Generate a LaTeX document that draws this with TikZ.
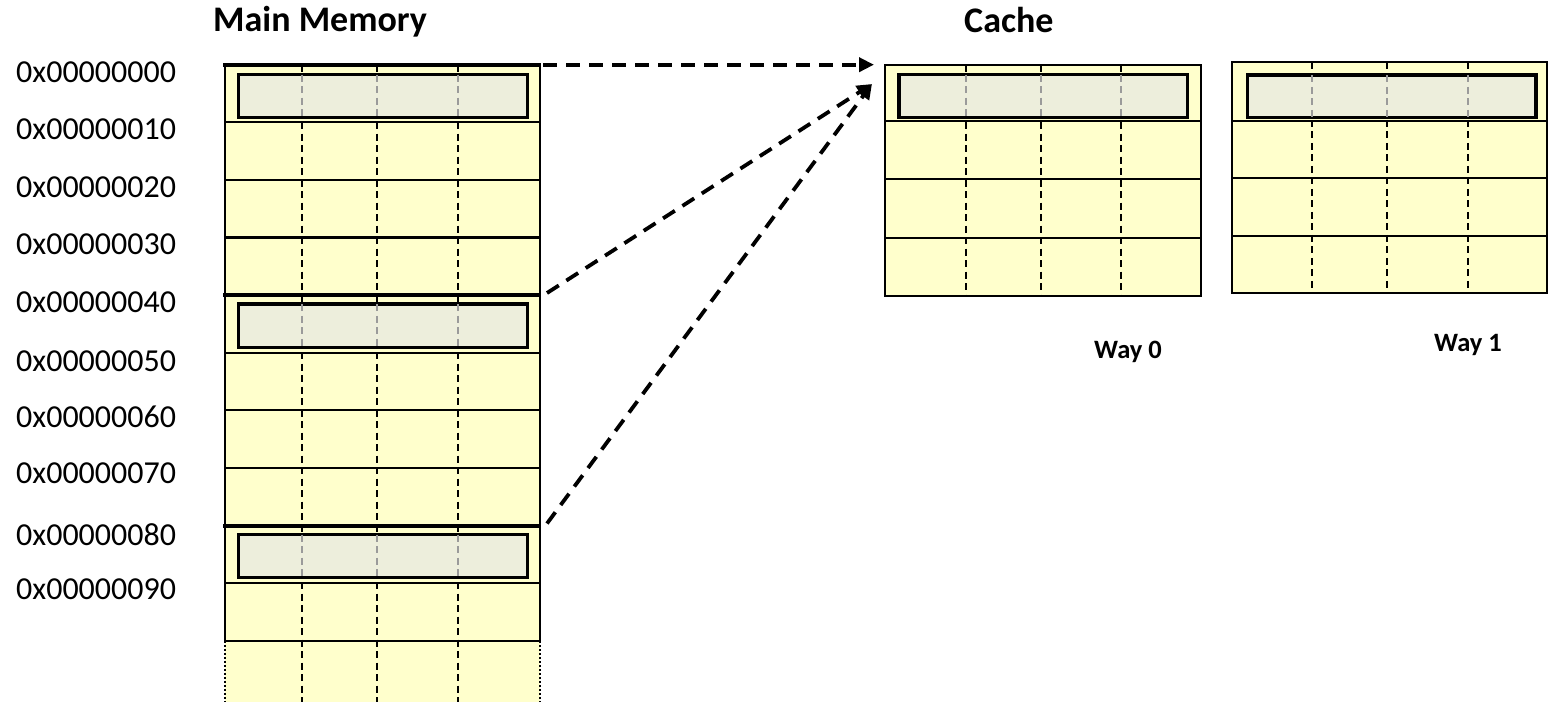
\documentclass[tikz,border=0pt]{standalone}
\usepackage{fontspec}
\setmainfont{Carlito}
\usetikzlibrary{arrows.meta}
\definecolor{cellfill}{HTML}{FFFFCC}
\definecolor{blockfill}{HTML}{EDEEDC}
\definecolor{gridgrey}{HTML}{9A9A9A}
\begin{document}
\begin{tikzpicture}[x=1pt,y=-1pt,
  rowline/.style={line width=2.2pt},
  sepline/.style={line width=4.2pt},
  colline/.style={line width=2pt, dash pattern=on 7pt off 4.5pt},
  innercol/.style={gridgrey, line width=2pt, dash pattern=on 7pt off 4.5pt},
  blockbox/.style={draw, line width=3.2pt, fill=blockfill, inner sep=0pt, anchor=north west},
  addr/.style={inner sep=0pt, anchor=base west, font=\fontsize{32}{38}\selectfont},
  heading/.style={inner sep=0pt, anchor=base west, font=\fontsize{36}{43}\selectfont\bfseries},
  waylabel/.style={inner sep=0pt, anchor=base west, font=\fontsize{26.5}{32}\selectfont\bfseries},
  maparrow/.style={line width=3.8pt, dash pattern=on 14pt off 9pt,
    -{Triangle[length=15pt,width=14pt]}}]
\useasboundingbox (0,0) rectangle (1552,702);

% ---------- main memory ----------
\fill[cellfill] (225,64.7) rectangle (540,702);
\foreach \cx in {302.3,377,457.7}
  \draw[colline] (\cx,64.7) -- (\cx,702);
\foreach \ry in {122.3,180,237.5,352.7,410,468,583,640.8}
  \draw[rowline] (225,\ry) -- (540,\ry);
\draw[rowline] (225,64.7) -- (225,640.8) (540,64.7) -- (540,640.8);
\draw[line width=2pt, dotted] (225,640.8) -- (225,702) (540,640.8) -- (540,702);
\foreach \ry in {64.7,295,525.6}
  \draw[sepline] (223,\ry) -- (541,\ry);

\node[blockbox, minimum width=289pt, minimum height=43pt] (m0) at (236.7,72.7) {};
\node[blockbox, minimum width=289pt, minimum height=43.7pt] (m4) at (236.7,302.3) {};
\node[blockbox, minimum width=289pt, minimum height=43.3pt] (m8) at (236.7,532.7) {};
\foreach \b in {m0,m4,m8}
  \foreach \cx in {302.3,377,457.7}
    \draw[innercol] (\cx,0 |- \b.north) ++(0,2) -- (\cx,0 |- \b.south);

% ---------- cache, way 0 ----------
\fill[cellfill] (885,64.7) rectangle (1200.7,295.7);
\foreach \cx in {965.7,1041,1121}
  \draw[colline] (\cx,64.7) -- (\cx,295.7);
\foreach \ry in {121,179.3,238.3}
  \draw[rowline] (885,\ry) -- (1200.7,\ry);
\draw[rowline] (885,64.7) rectangle (1200.7,295.7);
\node[blockbox, minimum width=288.4pt, minimum height=43pt] (w0) at (897.3,72.7) {};
\foreach \cx in {965.7,1041,1121}
  \draw[innercol] (\cx,0 |- w0.north) ++(0,2) -- (\cx,0 |- w0.south);

% ---------- cache, way 1 ----------
\fill[cellfill] (1231.7,62.3) rectangle (1546.7,293.3);
\foreach \cx in {1312.3,1387.3,1467.7}
  \draw[colline] (\cx,62.3) -- (\cx,293.3);
\foreach \ry in {120.7,178.3,235.7}
  \draw[rowline] (1231.7,\ry) -- (1546.7,\ry);
\draw[rowline] (1231.7,62.3) rectangle (1546.7,293.3);
\node[blockbox, minimum width=288.6pt, minimum height=42.7pt] (w1) at (1245.7,73.3) {};
\foreach \cx in {1312.3,1387.3,1467.7}
  \draw[innercol] (\cx,0 |- w1.north) ++(0,2) -- (\cx,0 |- w1.south);

% ---------- mapping arrows ----------
\coordinate (s0) at (543,64.7);
\coordinate (s4) at (547,293);
\coordinate (s8) at (547,523.5);
\coordinate (t0) at (874,64.7);
\coordinate (t1) at (872,84);
\draw[maparrow] (s0) -- (t0);
\draw[maparrow] (s4) -- (t1);
\draw[maparrow] (s8) -- (t1);

% ---------- labels ----------
\node[heading] (hmem) at (213,31) {Main Memory};
\node[heading] (hcache) at (964,32.3) {Cache};
\node[waylabel] (lw0) at (1094,358) {Way 0};
\node[waylabel] (lw1) at (1434,351.7) {Way 1};

\foreach \i/\txt/\by in {0/0x00000000/82.5, 1/0x00000010/139.1, 2/0x00000020/197.5,
    3/0x00000030/254.8, 4/0x00000040/312.5, 5/0x00000050/371.5, 6/0x00000060/427.5,
    7/0x00000070/483.5, 8/0x00000080/545.8, 9/0x00000090/599.1}
  \node[addr] (a\i) at (16,\by) {\txt};
\end{tikzpicture}
\end{document}
